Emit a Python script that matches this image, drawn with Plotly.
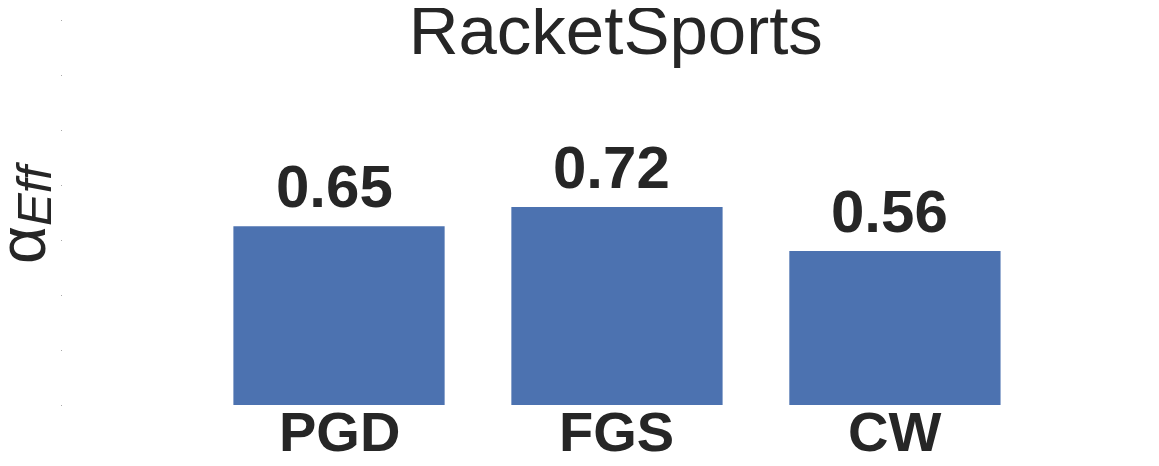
import plotly.graph_objects as go

# valeurs
methods = ["PGD", "FGS", "CW"]
alpha_eff = [0.65, 0.72, 0.56]
value_labels = ["0.65", "0.72", "0.56"]
ytick_vals = [0, 0.2, 0.4, 0.6, 0.8, 1.0, 1.2, 1.4]

text_color = "#262626"
font_family = "Liberation Sans, Arial"
fig = go.Figure()

fig.add_trace(go.Bar(
    x=[0, 1, 2], y=alpha_eff, width=0.76,
    marker=dict(color="#4C72B0", line=dict(width=0)),
    hoverinfo="skip",
))

# étiquettes au-dessus des barres
for i, (v, lab) in enumerate(zip(alpha_eff, value_labels)):
    fig.add_annotation(
        x=i, y=v, text="<b>" + lab + "</b>", showarrow=False,
        yanchor="bottom", yshift=4, xshift=-5,
        font=dict(family=font_family, size=60, color=text_color),
    )

# noms des méthodes sous les barres
for i, m in enumerate(methods):
    fig.add_annotation(
        x=i, xref="x", y=0, yref="paper", text="<b>" + m + "</b>",
        showarrow=False, yanchor="top", yshift=7,
        font=dict(family=font_family, size=56, color=text_color),
    )

# label de l'axe y : alpha + indice Eff (deux textes pour régler la taille)
fig.add_annotation(
    xref="paper", yref="paper", x=0, y=0, xanchor="center", yanchor="middle",
    xshift=-41, yshift=160,
    text="α", showarrow=False, textangle=-90,
    font=dict(family=font_family, size=66, color=text_color),
)
fig.add_annotation(
    xref="paper", yref="paper", x=0, y=0, xanchor="center", yanchor="middle",
    xshift=-29, yshift=211,
    text="<i>Eff</i>", showarrow=False, textangle=-90,
    font=dict(family=font_family, size=49, color=text_color),
)

# la page html ajoute une marge de 8 px : figure un peu plus petite
fig.update_layout(
    width=1151, height=458,
    margin=dict(l=55, r=0, t=12, b=61),
    plot_bgcolor="white", paper_bgcolor="white",
    showlegend=False,
    title=dict(
        text="RacketSports", x=0.528, xanchor="center", y=0.952, yref="container",
        yanchor="middle", automargin=False,
        font=dict(family=font_family, size=69, color=text_color),
    ),
    xaxis=dict(
        range=[-0.993, 2.95], showticklabels=False, automargin=False,
        showgrid=False, zeroline=False, showline=False, ticks="",
    ),
    yaxis=dict(
        range=[0, 1.4], tickvals=ytick_vals, showticklabels=False, automargin=False,
        ticks="outside", ticklen=1, tickwidth=1, tickcolor="#aaaaaa",
        showgrid=False, zeroline=False, showline=False,
    ),
)

fig.write_html("out.html")
